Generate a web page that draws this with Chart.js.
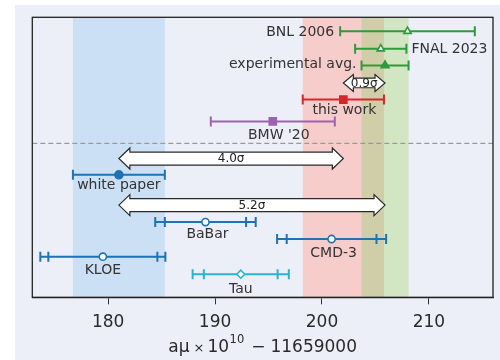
<!DOCTYPE html>
<html>
<head>
<meta charset="utf-8">
<script src="https://cdn.jsdelivr.net/npm/chart.js@4.4.0/dist/chart.umd.min.js"></script>
<style>
  html, body { margin: 0; padding: 0; background: #ffffff; }
  #panel { position: absolute; left: 15px; top: 5px; width: 485px; height: 355px; background: #eceef8; }
  canvas { display: block; }
</style>
</head>
<body>
<div id="panel"><canvas id="chart" width="485" height="355"></canvas></div>
<script>
// Muon anomalous magnetic moment: a_mu x 1e10 - 11659000
const resultNames  = ['BNL 2006', 'FNAL 2023', 'experimental avg.', 'this work', "BMW '20",
                      'white paper', 'BaBar', 'CMD-3', 'KLOE', 'Tau'];
const resultValues = [208.0, 205.5, 205.9, 202.0, 195.4, 181.0, 189.1, 200.9, 179.5, 192.4];
const totalErrors  = [6.3, 2.4, 2.2, 3.8, 5.8, 4.3, 4.7, 5.1, 5.85, 4.5];
const innerErrors  = [null, null, null, null, null, null, 3.8, 4.2, 5.1, 3.45];
const resultRows   = [0, 1, 1.95, 3.9, 5.15, 8.2, 10.9, 11.87, 12.88, 13.88];

// shaded bands taken from these results
const bandResults = ['white paper', 'this work', 'experimental avg.'];

// tension arrows between results
const tensionFrom   = ['this work', 'white paper', 'white paper'];
const tensionTo     = ['experimental avg.', 'this work', 'experimental avg.'];
const tensionLabels = ['0.9σ', '4.0σ', '5.2σ'];
const tensionRows   = [2.95, 7.27, 9.93];

const tickValues = [180, 190, 200, 210];

// ---- styling ----
const GREEN = '#2e9a3a', RED = '#d62728', PURPLE = '#9d63b0', BLUE = '#1f72b4', CYAN = '#26b7cf';
const resultColors = [GREEN, GREEN, GREEN, RED, PURPLE, BLUE, BLUE, BLUE, BLUE, CYAN];
const markerStyle  = ['triangle', 'triangle', 'triangle', 'rect', 'rect', 'circle', 'circle', 'circle', 'circle', 'rectRot'];
const markerFilled = [false, false, true, true, true, true, false, false, false, false];
const markerRadius = [4.2, 4.2, 4.5, 5, 5, 4, 3.6, 3.6, 3.6, 4];
const bandColors   = ['#cce0f5', '#f6cdca', '#d3e6c4'];
const overlapColor = '#d0cea9';
// label placement (pixels relative to the marker)
const labelPlace = [
  { side: 'left',  dx: -6, dy: 0 },
  { side: 'right', dx: 5,  dy: 0 },
  { side: 'left',  dx: -5, dy: -2 },
  { side: 'below', dx: 1,  dy: 9.5 },
  { side: 'below', dx: 6,  dy: 12.5 },
  { side: 'below', dx: 0,  dy: 10 },
  { side: 'below', dx: 2,  dy: 11.5 },
  { side: 'below', dx: 2,  dy: 13.5 },
  { side: 'below', dx: 0,  dy: 12.8 },
  { side: 'below', dx: 0,  dy: 14 }
];
const FONT = '"DejaVu Sans", sans-serif';
const TEXT = '#333333';

const idx = name => resultNames.indexOf(name);

const datasets = [];
resultNames.forEach((name, i) => {
  const c = resultValues[i], e = totalErrors[i], y = resultRows[i], col = resultColors[i];
  datasets.push({
    data: [{ x: c - e, y }, { x: c + e, y }],
    showLine: true, borderColor: col, borderWidth: 2,
    pointStyle: 'line', rotation: 90, pointRadius: 5,
    pointBorderColor: col, pointBorderWidth: 2, order: 2
  });
  if (innerErrors[i] != null) {
    const s = innerErrors[i];
    datasets.push({
      data: [{ x: c - s, y }, { x: c + s, y }],
      showLine: false, pointStyle: 'line', rotation: 90, pointRadius: 5,
      pointBorderColor: col, pointBorderWidth: 2, order: 1
    });
  }
  datasets.push({
    data: [{ x: c, y }],
    showLine: false, pointStyle: markerStyle[i], pointRadius: markerRadius[i],
    pointBackgroundColor: markerFilled[i] ? col : '#ffffff',
    pointBorderColor: col, pointBorderWidth: 1.6, order: 0
  });
});

function drawArrow(ctx, x0, x1, y, shaft, head, len) {
  ctx.beginPath();
  ctx.moveTo(x0, y);
  ctx.lineTo(x0 + len, y - head);
  ctx.lineTo(x0 + len, y - shaft);
  ctx.lineTo(x1 - len, y - shaft);
  ctx.lineTo(x1 - len, y - head);
  ctx.lineTo(x1, y);
  ctx.lineTo(x1 - len, y + head);
  ctx.lineTo(x1 - len, y + shaft);
  ctx.lineTo(x0 + len, y + shaft);
  ctx.lineTo(x0 + len, y + head);
  ctx.closePath();
  ctx.fillStyle = '#ffffff';
  ctx.fill();
  ctx.strokeStyle = '#2a2a2a';
  ctx.lineWidth = 1.2;
  ctx.stroke();
}

const decorations = {
  id: 'decorations',
  beforeDatasetsDraw(chart) {
    const { ctx, chartArea: a, scales: { x, y } } = chart;
    ctx.save();
    ctx.beginPath();
    ctx.rect(a.left, a.top, a.right - a.left, a.bottom - a.top);
    ctx.clip();
    const spans = bandResults.map(n => {
      const i = idx(n);
      return [resultValues[i] - totalErrors[i], resultValues[i] + totalErrors[i]];
    });
    spans.forEach((s, k) => {
      const p0 = x.getPixelForValue(s[0]), p1 = x.getPixelForValue(s[1]);
      ctx.fillStyle = bandColors[k];
      ctx.fillRect(p0, a.top, p1 - p0, a.bottom - a.top);
    });
    // overlap of the last two bands
    const lo = Math.max(spans[1][0], spans[2][0]), hi = Math.min(spans[1][1], spans[2][1]);
    if (hi > lo) {
      const p0 = x.getPixelForValue(lo), p1 = x.getPixelForValue(hi);
      ctx.fillStyle = overlapColor;
      ctx.fillRect(p0, a.top, p1 - p0, a.bottom - a.top);
    }
    // separator between measurements and predictions
    const yd = y.getPixelForValue(6.4);
    ctx.setLineDash([5, 3]);
    ctx.strokeStyle = '#9a9a9a';
    ctx.lineWidth = 1.2;
    ctx.beginPath();
    ctx.moveTo(a.left, yd);
    ctx.lineTo(a.right, yd);
    ctx.stroke();
    ctx.restore();
  },
  afterDatasetsDraw(chart) {
    const { ctx, chartArea: a, scales: { x, y } } = chart;
    ctx.save();
    // tension arrows
    tensionLabels.forEach((lab, k) => {
      const x0 = x.getPixelForValue(resultValues[idx(tensionFrom[k])]);
      const x1 = x.getPixelForValue(resultValues[idx(tensionTo[k])]);
      const yy = y.getPixelForValue(tensionRows[k]);
      const small = (x1 - x0) < 80;
      drawArrow(ctx, x0, x1, yy, small ? 4.8 : 6.5, small ? 8.5 : 10.5, small ? 10 : 11);
      ctx.fillStyle = '#222';
      ctx.font = '12px ' + FONT;
      ctx.textAlign = 'center';
      ctx.textBaseline = 'middle';
      ctx.fillText(lab, (x0 + x1) / 2, yy + 0.5);
    });
    // result labels
    ctx.font = '14px ' + FONT;
    ctx.fillStyle = TEXT;
    ctx.textBaseline = 'middle';
    resultNames.forEach((name, i) => {
      const pl = labelPlace[i];
      const yy = y.getPixelForValue(resultRows[i]) + pl.dy + 1;
      if (pl.side === 'left') {
        ctx.textAlign = 'right';
        ctx.fillText(name, x.getPixelForValue(resultValues[i] - totalErrors[i]) + pl.dx, yy);
      } else if (pl.side === 'right') {
        ctx.textAlign = 'left';
        ctx.fillText(name, x.getPixelForValue(resultValues[i] + totalErrors[i]) + pl.dx, yy);
      } else {
        ctx.textAlign = 'center';
        ctx.fillText(name, x.getPixelForValue(resultValues[i]) + pl.dx, yy);
      }
    });
    // frame
    ctx.strokeStyle = '#222';
    ctx.lineWidth = 1.3;
    ctx.strokeRect(a.left, a.top, a.right - a.left, a.bottom - a.top);
    ctx.restore();
  },
  afterDraw(chart) {
    // axis title with superscript exponent
    const { ctx, chartArea: a } = chart;
    const parts = [
      { t: 'aμ', f: '17px ' + FONT, gap: 4, dy: 0 },
      { t: '×', f: '13px ' + FONT, gap: 3, dy: 0 },
      { t: '10', f: '17px ' + FONT, gap: 0.5, dy: 0 },
      { t: '10', f: '11.5px ' + FONT, gap: 7, dy: -9 },
      { t: '−', f: '17px ' + FONT, gap: 5, dy: 0 },
      { t: '11659000', f: '17px ' + FONT, gap: 0, dy: 0 }
    ];
    ctx.save();
    let total = 0;
    parts.forEach(p => { ctx.font = p.f; p.w = ctx.measureText(p.t).width; total += p.w + p.gap; });
    let cx = (a.left + a.right) / 2 - total / 2;
    const base = 346.5;
    ctx.fillStyle = '#2a2a2a';
    ctx.textAlign = 'left';
    ctx.textBaseline = 'alphabetic';
    parts.forEach(p => {
      ctx.font = p.f;
      ctx.fillText(p.t, cx, base + p.dy);
      cx += p.w + p.gap;
    });
    ctx.restore();
  }
};

new Chart(document.getElementById('chart'), {
  type: 'scatter',
  data: { datasets },
  options: {
    responsive: false,
    animation: false,
    events: [],
    layout: { padding: { left: 17.3, right: 5, top: 12.3, bottom: 0 } },
    plugins: { legend: { display: false }, tooltip: { enabled: false } },
    scales: {
      x: {
        type: 'linear', min: 172.9, max: 216.0,
        afterBuildTicks: s => { s.ticks = tickValues.map(v => ({ value: v })); },
        afterFit: s => { s.height = 62.7; },
        grid: { drawOnChartArea: false, drawTicks: true, tickLength: 7, color: '#333', lineWidth: 1 },
        border: { display: true, color: '#222', width: 1.3 },
        ticks: { font: { family: 'DejaVu Sans', size: 17 }, color: '#2a2a2a', padding: 8, maxRotation: 0 }
      },
      y: { type: 'linear', min: -0.8, max: 15.2, reverse: true, display: false }
    }
  },
  plugins: [decorations]
});
</script>
</body>
</html>
